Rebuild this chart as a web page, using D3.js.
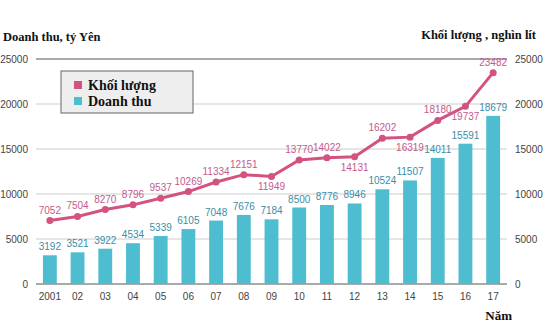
<!DOCTYPE html>
<html>
<head>
<meta charset="utf-8">
<script src="https://cdn.jsdelivr.net/npm/d3@7"></script>
<style>
  body { margin: 0; background: #fff; }
  svg text { font-family: "Liberation Sans", Arial, sans-serif; }
  .ttl { font-family: "Liberation Serif", "Times New Roman", serif !important; font-weight: bold; }
</style>
</head>
<body>
<div class="chart"></div>
<script>
// years on the x axis
var years = ["2001", "02", "03", "04", "05", "06", "07", "08", "09", "10", "11", "12", "13", "14", "15", "16", "17"];
// revenue, billion yen (bars)
var doanhThu = [3192, 3521, 3922, 4534, 5339, 6105, 7048, 7676, 7184, 8500, 8776, 8946, 10524, 11507, 14011, 15591, 18679];
// volume, thousand litres (line)
var khoiLuong = [7052, 7504, 8270, 8796, 9537, 10269, 11334, 12151, 11949, 13770, 14022, 14131, 16202, 16319, 18180, 19737, 23482];
// line labels that sit under the point
var belowIdx = [8, 11, 13, 15];
var yTicks = [0, 5000, 10000, 15000, 20000, 25000];

var svgWidth = 544, svgHeight = 336;
var margin = {top: 59, right: 37, bottom: 52, left: 36};
var width = svgWidth - margin.left - margin.right;
var height = svgHeight - margin.top - margin.bottom;

var svg = d3.select(".chart").append("svg")
  .attr("width", svgWidth)
  .attr("height", svgHeight);

var g = svg.append("g")
  .attr("transform", `translate(${margin.left}, ${margin.top})`);

var xScale = d3.scaleBand()
  .domain(years)
  .range([0, width])
  .paddingInner(0.5)
  .paddingOuter(0.25);
var xPoint = d => xScale(d) + xScale.bandwidth() / 2;

var yScale = d3.scaleLinear()
  .domain([0, 25000])
  .range([height, 0]);

// grid lines
g.selectAll(".grid")
  .data(yTicks)
  .enter()
  .append("line")
  .attr("x1", 0)
  .attr("x2", width)
  .attr("y1", d => yScale(d))
  .attr("y2", d => yScale(d))
  .attr("stroke", d => (d == 0 || d == 25000) ? "#555" : "#ccc")
  .attr("stroke-width", 1);

// left and right tick labels
var leftAxis = d3.axisLeft(yScale).tickValues(yTicks).tickFormat(d3.format("d")).tickSize(0).tickPadding(8);
g.append("g").call(leftAxis).call(a => a.select(".domain").remove())
  .selectAll("text").attr("font-size", 10).attr("fill", "#444")
  .attr("font-family", "Liberation Sans, Arial, sans-serif");

var rightAxis = d3.axisRight(yScale).tickValues(yTicks).tickFormat(d3.format("d")).tickSize(0).tickPadding(8);
g.append("g").attr("transform", `translate(${width}, 0)`)
  .call(rightAxis).call(a => a.select(".domain").remove())
  .selectAll("text").attr("font-size", 10).attr("fill", "#444")
  .attr("font-family", "Liberation Sans, Arial, sans-serif");

// bottom axis
var xAxis = d3.axisBottom(xScale).tickSize(0).tickPadding(9);
g.append("g").attr("transform", `translate(0, ${height})`)
  .call(xAxis).call(a => a.select(".domain").remove())
  .selectAll("text").attr("font-size", 10).attr("fill", "#444")
  .attr("font-family", "Liberation Sans, Arial, sans-serif");

// bars
g.selectAll(".bar")
  .data(doanhThu)
  .enter()
  .append("rect")
  .attr("x", (d, i) => xScale(years[i]))
  .attr("y", d => yScale(d))
  .attr("width", xScale.bandwidth())
  .attr("height", d => height - yScale(d))
  .attr("fill", "#4dbdcf");

g.selectAll(".barLabel")
  .data(doanhThu)
  .enter()
  .append("text")
  .attr("x", (d, i) => xPoint(years[i]))
  .attr("y", d => yScale(d) - 5)
  .attr("text-anchor", "middle")
  .attr("font-size", 10)
  .attr("fill", "#3b8ea6")
  .text(d => d);

// volume line
var line = d3.line()
  .x((d, i) => xPoint(years[i]))
  .y(d => yScale(d));

g.append("path")
  .attr("d", line(khoiLuong))
  .attr("fill", "none")
  .attr("stroke", "#d4527f")
  .attr("stroke-width", 3);

g.selectAll(".dot")
  .data(khoiLuong)
  .enter()
  .append("circle")
  .attr("cx", (d, i) => xPoint(years[i]))
  .attr("cy", d => yScale(d))
  .attr("r", 3.5)
  .attr("fill", "#d4527f");

g.selectAll(".lineLabel")
  .data(khoiLuong)
  .enter()
  .append("text")
  .attr("x", (d, i) => xPoint(years[i]))
  .attr("y", (d, i) => belowIdx.includes(i) ? yScale(d) + 14 : yScale(d) - 7)
  .attr("text-anchor", "middle")
  .attr("font-size", 10)
  .attr("fill", "#c45a8c")
  .text(d => d);

// legend
var legend = svg.append("g").attr("transform", "translate(61, 71)");
legend.append("rect")
  .attr("width", 132).attr("height", 42)
  .attr("fill", "#eeeeee").attr("stroke", "#666").attr("stroke-width", 1);
var legendItems = [{name: "Khối lượng", color: "#d4527f"}, {name: "Doanh thu", color: "#4dbdcf"}];
legendItems.forEach(function(item, i) {
  legend.append("rect")
    .attr("x", 13).attr("y", 10 + i * 16)
    .attr("width", 8).attr("height", 8)
    .attr("fill", item.color);
  legend.append("text")
    .attr("class", "ttl")
    .attr("x", 27).attr("y", 19 + i * 16)
    .attr("font-size", 14)
    .attr("fill", "#111")
    .text(item.name);
});

// axis titles
svg.append("text").attr("class", "ttl")
  .attr("x", 3).attr("y", 41)
  .attr("font-size", 12.5).attr("fill", "#111")
  .text("Doanh thu, tỷ Yên");

svg.append("text").attr("class", "ttl")
  .attr("x", 536).attr("y", 39)
  .attr("text-anchor", "end")
  .attr("font-size", 12.5).attr("fill", "#111")
  .text("Khối lượng , nghìn lít");

svg.append("text").attr("class", "ttl")
  .attr("x", 512).attr("y", 320)
  .attr("text-anchor", "end")
  .attr("font-size", 13).attr("fill", "#111")
  .text("Năm");
</script>
</body>
</html>
